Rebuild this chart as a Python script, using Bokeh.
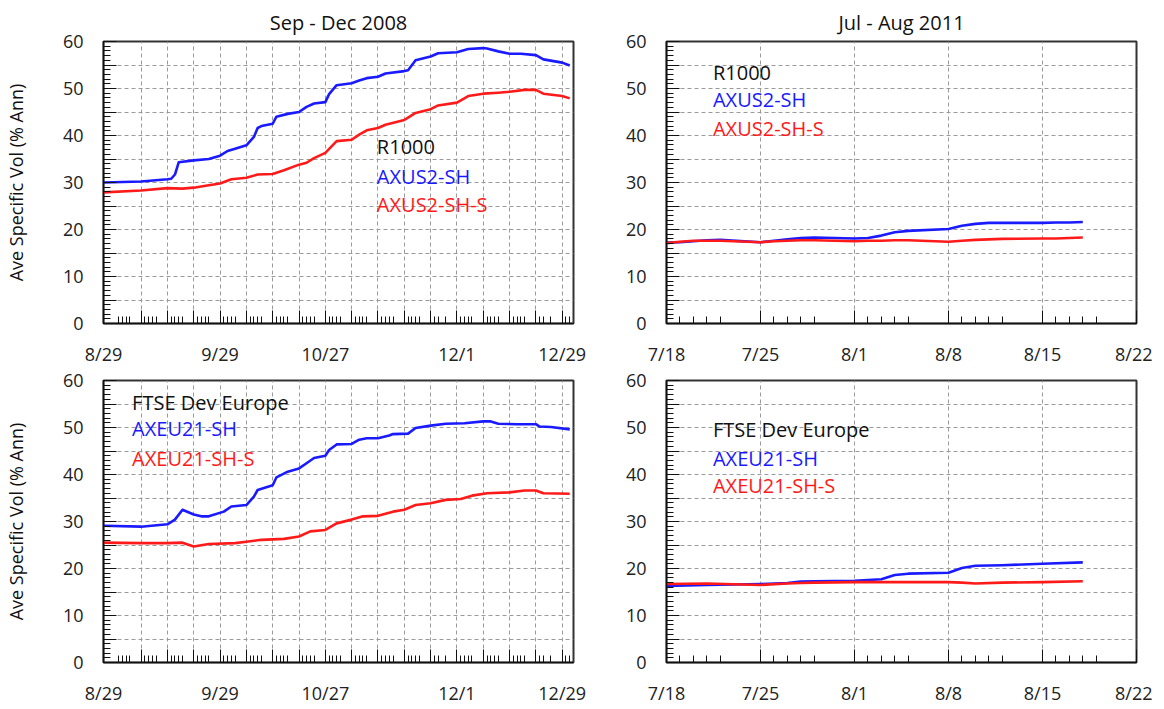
from datetime import date, timedelta
from bokeh.plotting import figure
from bokeh.models import Range1d, FixedTicker, Label
from bokeh.layouts import gridplot
from bokeh.embed import file_html
from bokeh.resources import INLINE

FONT = "Open Sans"
BLUE = "#1a1aff"
RED = "#ff1a1a"

# ---------------- data ----------------
# Sep - Dec 2008, R1000
tl_blue_dates = ["2008-08-29", "2008-09-08", "2008-09-15", "2008-09-16", "2008-09-17", "2008-09-18",
                 "2008-09-22", "2008-09-26", "2008-09-29", "2008-10-01", "2008-10-03", "2008-10-06",
                 "2008-10-08", "2008-10-09", "2008-10-10", "2008-10-13", "2008-10-14", "2008-10-17",
                 "2008-10-20", "2008-10-22", "2008-10-24", "2008-10-27", "2008-10-28", "2008-10-30",
                 "2008-11-03", "2008-11-05", "2008-11-07", "2008-11-10", "2008-11-12", "2008-11-17",
                 "2008-11-18", "2008-11-20", "2008-11-24", "2008-11-26", "2008-12-01", "2008-12-04",
                 "2008-12-08", "2008-12-09", "2008-12-12", "2008-12-15", "2008-12-18", "2008-12-22",
                 "2008-12-24", "2008-12-29", "2008-12-31"]
tl_blue = [30.0, 30.2, 30.7, 30.8, 31.7, 34.3, 34.7, 35.0, 35.7, 36.7, 37.2, 37.9,
           39.7, 41.6, 42.0, 42.5, 44.0, 44.6, 45.0, 46.1, 46.8, 47.1, 48.8, 50.7,
           51.1, 51.7, 52.2, 52.5, 53.2, 53.7, 53.9, 56.0, 56.8, 57.5, 57.7, 58.4,
           58.6, 58.5, 57.9, 57.4, 57.4, 57.1, 56.2, 55.5, 54.9]
tl_red_dates = ["2008-08-29", "2008-09-08", "2008-09-15", "2008-09-19", "2008-09-22", "2008-09-26",
                "2008-09-29", "2008-10-02", "2008-10-06", "2008-10-09", "2008-10-13", "2008-10-16",
                "2008-10-20", "2008-10-22", "2008-10-24", "2008-10-27", "2008-10-30", "2008-11-03",
                "2008-11-05", "2008-11-07", "2008-11-10", "2008-11-12", "2008-11-17", "2008-11-18",
                "2008-11-20", "2008-11-24", "2008-11-26", "2008-12-01", "2008-12-04", "2008-12-08",
                "2008-12-12", "2008-12-15", "2008-12-19", "2008-12-22", "2008-12-24", "2008-12-29",
                "2008-12-31"]
tl_red = [27.9, 28.3, 28.8, 28.7, 28.9, 29.4, 29.8, 30.7, 31.0, 31.7, 31.8, 32.6,
          33.8, 34.2, 35.2, 36.3, 38.8, 39.1, 40.2, 41.1, 41.6, 42.3, 43.3, 43.8,
          44.8, 45.6, 46.4, 47.0, 48.4, 48.9, 49.1, 49.3, 49.7, 49.7, 48.9, 48.4, 47.9]

# Sep - Dec 2008, FTSE Dev Europe
bl_blue_dates = ["2008-08-29", "2008-09-08", "2008-09-15", "2008-09-17", "2008-09-19", "2008-09-22",
                 "2008-09-24", "2008-09-26", "2008-09-30", "2008-10-02", "2008-10-06", "2008-10-08",
                 "2008-10-09", "2008-10-13", "2008-10-14", "2008-10-17", "2008-10-20", "2008-10-22",
                 "2008-10-24", "2008-10-27", "2008-10-28", "2008-10-30", "2008-11-03", "2008-11-05",
                 "2008-11-07", "2008-11-10", "2008-11-13", "2008-11-14", "2008-11-18", "2008-11-20",
                 "2008-11-24", "2008-11-28", "2008-12-03", "2008-12-08", "2008-12-10", "2008-12-12",
                 "2008-12-17", "2008-12-22", "2008-12-23", "2008-12-26", "2008-12-31"]
bl_blue = [29.1, 28.9, 29.4, 30.4, 32.5, 31.5, 31.1, 31.1, 32.1, 33.2, 33.5, 35.3,
           36.7, 37.7, 39.4, 40.6, 41.3, 42.4, 43.5, 44.0, 45.2, 46.4, 46.5, 47.4,
           47.7, 47.7, 48.3, 48.6, 48.7, 49.9, 50.4, 50.8, 50.9, 51.3, 51.3, 50.8,
           50.7, 50.7, 50.2, 50.1, 49.6]
bl_red_dates = ["2008-08-29", "2008-09-08", "2008-09-15", "2008-09-19", "2008-09-22", "2008-09-26",
                "2008-10-03", "2008-10-06", "2008-10-10", "2008-10-16", "2008-10-20", "2008-10-23",
                "2008-10-27", "2008-10-30", "2008-11-03", "2008-11-06", "2008-11-10", "2008-11-14",
                "2008-11-17", "2008-11-20", "2008-11-24", "2008-11-28", "2008-12-02", "2008-12-05",
                "2008-12-09", "2008-12-15", "2008-12-19", "2008-12-22", "2008-12-24", "2008-12-31"]
bl_red = [25.5, 25.4, 25.4, 25.5, 24.7, 25.2, 25.4, 25.7, 26.1, 26.3, 26.8, 27.9,
          28.2, 29.6, 30.4, 31.1, 31.2, 32.1, 32.5, 33.5, 33.9, 34.6, 34.8, 35.5,
          36.0, 36.2, 36.6, 36.6, 36.0, 35.9]

# Jul - Aug 2011, R1000
tr_dates = ["2011-07-18", "2011-07-19", "2011-07-20", "2011-07-21", "2011-07-22", "2011-07-25",
            "2011-07-26", "2011-07-27", "2011-07-28", "2011-07-29", "2011-08-01", "2011-08-02",
            "2011-08-03", "2011-08-04", "2011-08-05", "2011-08-08", "2011-08-09", "2011-08-10",
            "2011-08-11", "2011-08-12", "2011-08-15", "2011-08-16", "2011-08-17", "2011-08-18"]
tr_blue = [17.2, 17.3, 17.5, 17.7, 17.8, 17.3, 17.6, 17.9, 18.2, 18.3, 18.1, 18.2,
           18.7, 19.4, 19.7, 20.1, 20.8, 21.2, 21.4, 21.4, 21.4, 21.5, 21.5, 21.6]
tr_red = [17.1, 17.4, 17.6, 17.6, 17.6, 17.3, 17.5, 17.6, 17.7, 17.7, 17.5, 17.6,
          17.6, 17.7, 17.7, 17.4, 17.6, 17.8, 17.9, 18.0, 18.1, 18.1, 18.2, 18.3]

# Jul - Aug 2011, FTSE Dev Europe
br_dates = ["2011-07-18", "2011-07-21", "2011-07-25", "2011-07-27", "2011-07-28", "2011-07-29",
            "2011-08-01", "2011-08-03", "2011-08-04", "2011-08-05", "2011-08-08", "2011-08-09",
            "2011-08-10", "2011-08-12", "2011-08-15", "2011-08-18"]
br_blue = [16.3, 16.5, 16.7, 16.9, 17.2, 17.3, 17.4, 17.7, 18.6, 18.9, 19.1, 20.1,
           20.6, 20.7, 21.0, 21.3]
br_red = [16.7, 16.8, 16.5, 16.8, 16.9, 17.0, 17.1, 17.1, 17.1, 17.1, 17.1, 17.0,
          16.8, 17.0, 17.1, 17.3]

# axis / calendar info
tl_start, tl_end, tl_tick_end = "2008-08-29", "2009-01-01", "2008-12-31"
tl_holidays = ["2008-09-01", "2008-11-27", "2008-12-25"]
tl_labels = ["8/29", "9/29", "10/27", "12/1", "12/29"]
tl_label_dates = ["2008-08-29", "2008-09-29", "2008-10-27", "2008-12-01", "2008-12-29"]
tr_start, tr_end, tr_tick_end = "2011-07-18", "2011-08-22", "2011-08-19"
tr_holidays = []
tr_labels = ["7/18", "7/25", "8/1", "8/8", "8/15", "8/22"]
tr_label_dates = ["2011-07-18", "2011-07-25", "2011-08-01", "2011-08-08", "2011-08-15", "2011-08-22"]

y_major = list(range(0, 61, 5))
y_minor = list(range(0, 61, 1))
y_labels = {v: (str(v) if v % 10 == 0 else "") for v in y_major}

titles = ["Sep - Dec 2008", "Jul - Aug 2011"]
tl_text = ["R1000", "AXUS2-SH", "AXUS2-SH-S"]
bl_text = ["FTSE Dev Europe", "AXEU21-SH", "AXEU21-SH-S"]
text_colors = ["#111111", BLUE, RED]
ylabel = "Ave Specific Vol (% Ann)"

FRAME_W, FRAME_H = 470, 282


def d(s):
    return date.fromisoformat(s)


def offs(dates, start):
    s0 = d(start)
    return [(d(x) - s0).days for x in dates]


def calendar_ticks(start, end, tick_end, holidays, label_dates, labels):
    s0, e0, te = d(start), d(end), d(tick_end)
    hol = {d(h) for h in holidays}
    major, minor = [], []
    cur = s0
    while cur <= te:
        if cur.weekday() < 5 and cur not in hol:
            off = (cur - s0).days
            if cur.weekday() == 0:
                major.append(off)
            else:
                minor.append(off)
        cur += timedelta(days=1)
    lab_off = offs(label_dates, start)
    for o in lab_off:
        if o not in major:
            major.append(o)
    major.sort()
    over = {m: "" for m in major}
    for o, l in zip(lab_off, labels):
        over[o] = l
    return major, minor, over, (e0 - s0).days


def panel(title, start, end, tick_end, holidays, label_dates, labels,
          blue_dates, blue, red_dates, red, texts, text_x, text_y,
          left, right, top, bottom, show_ylabel):
    major, minor, over, span = calendar_ticks(start, end, tick_end, holidays, label_dates, labels)
    p = figure(frame_width=FRAME_W, frame_height=FRAME_H, output_backend="svg", toolbar_location=None,
               x_range=Range1d(0, span), y_range=Range1d(0, 60),
               min_border_left=left, min_border_right=right,
               min_border_top=top, min_border_bottom=bottom,
               background_fill_color="white", border_fill_color="white")
    if title:
        p.title.text = title
        p.title.align = "center"
        p.title.text_font = FONT
        p.title.text_font_size = "20px"
        p.title.text_font_style = "normal"
        p.title.text_color = "#111111"
        p.title.standoff = 12
    p.outline_line_color = "#333333"
    p.outline_line_width = 2

    xa = p.xaxis[0]
    xa.ticker = FixedTicker(ticks=major, minor_ticks=minor)
    xa.major_label_overrides = over
    ya = p.yaxis[0]
    ya.ticker = FixedTicker(ticks=y_major, minor_ticks=y_minor)
    ya.major_label_overrides = y_labels
    for ax in (xa, ya):
        ax.axis_line_color = "#111111"
        ax.axis_line_width = 1.5
        ax.major_tick_in = 13
        ax.major_tick_out = 0
        ax.minor_tick_in = 7
        ax.minor_tick_out = 0
        ax.major_tick_line_color = "#111111"
        ax.minor_tick_line_color = "#111111"
        ax.major_label_text_font = FONT
        ax.major_label_text_font_size = "18px"
        ax.major_label_text_color = "#222222"
    xa.major_label_standoff = 18
    ya.major_label_standoff = 20
    if show_ylabel:
        ya.axis_label = ylabel
        ya.axis_label_text_font = FONT
        ya.axis_label_text_font_size = "18px"
        ya.axis_label_text_font_style = "normal"
        ya.axis_label_text_color = "#111111"
        ya.axis_label_standoff = 32

    for g in (p.xgrid[0], p.ygrid[0]):
        g.grid_line_color = "#9a9a9a"
        g.grid_line_dash = "4 3"
        g.grid_line_width = 1

    p.line(offs(blue_dates, start), blue, line_color=BLUE, line_width=2.6, line_join="round")
    p.line(offs(red_dates, start), red, line_color=RED, line_width=2.6, line_join="round")

    for t, c, yy in zip(texts, text_colors, text_y):
        p.add_layout(Label(x=text_x, y=yy, text=t, text_color=c, text_font=FONT,
                           text_font_size="20px", text_baseline="middle", text_align="left"))
    return p


tl = panel(titles[0], tl_start, tl_end, tl_tick_end, tl_holidays, tl_label_dates, tl_labels,
           tl_blue_dates, tl_blue, tl_red_dates, tl_red, tl_text, 72.7, [37.7, 31.3, 25.3],
           97, 13, 34, 45, True)
tr = panel(titles[1], tr_start, tr_end, tr_tick_end, tr_holidays, tr_label_dates, tr_labels,
           tr_dates, tr_blue, tr_dates, tr_red, tl_text, 3.46, [53.5, 47.7, 41.4],
           80, 16, 34, 45, False)
bl = panel(None, tl_start, tl_end, tl_tick_end, tl_holidays, tl_label_dates, tl_labels,
           bl_blue_dates, bl_blue, bl_red_dates, bl_red, bl_text, 7.6, [55.3, 49.7, 43.5],
           97, 13, 12, 42, True)
br = panel(None, tr_start, tr_end, tr_tick_end, tr_holidays, tr_label_dates, tr_labels,
           br_dates, br_blue, br_dates, br_red, bl_text, 3.46, [49.6, 43.5, 37.6],
           80, 16, 12, 42, False)

layout = gridplot([[tl, tr], [bl, br]], toolbar_location=None)
open("out.html", "w").write(file_html(layout, INLINE))
